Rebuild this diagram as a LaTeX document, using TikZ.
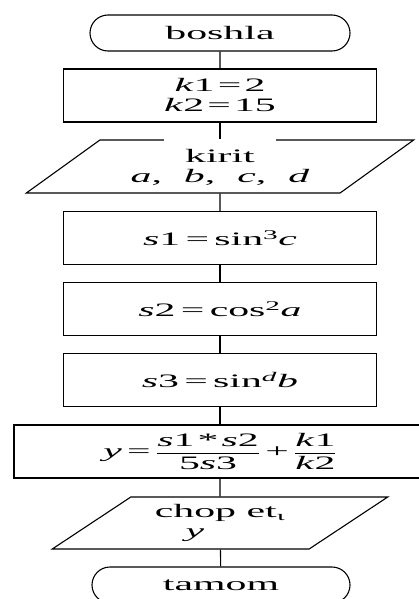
\documentclass[tikz,border=0pt]{standalone}
\usepackage{fontspec}
\setmainfont{Liberation Serif}[FakeStretch=2.2]
\usetikzlibrary{shapes.geometric,shapes.misc}

\begin{document}
\begin{tikzpicture}[x=1pt, y=-1pt, line width=1.1pt,
        font=\fontsize{19}{20}\selectfont,
        terminal/.style={draw, rounded rectangle, minimum width=260pt, minimum height=36pt, inner sep=0pt},
        process/.style={draw, rectangle, minimum width=313pt, minimum height=53pt, inner sep=0pt, align=center},
        io/.style={draw, trapezium, trapezium stretches=true, inner sep=0pt, align=center}]
    \useasboundingbox (0,0) rectangle (418,599);

    \node (start) at (220,33) [terminal] {boshla};
    \node (init) at (220,95.5) [process] {\textit{k}1\,=\,2\\ \textit{k}2\,=\,15};
    \node (input) at (220,166.5) [io, trapezium left angle=34, trapezium right angle=146, minimum width=388pt, minimum height=53pt]
        {\raisebox{0pt}[\ht\strutbox][\dp\strutbox]{\setlength\fboxsep{0pt}\colorbox{white}{\rule[-3pt]{0pt}{30pt}\hspace{21pt}kirit\hspace{21pt}}}\\
         \textit{a},\hspace{22pt}\textit{b},\hspace{22pt}\textit{c},\hspace{22pt}\textit{d}};
    \node (s1) at (220,238) [process] {\textit{s}1\;=\;sin\textsuperscript{3}\textit{c}};
    \node (s2) at (220,309) [process] {\textit{s}2\;=\;cos\textsuperscript{2}\textit{a}};
    \node (s3) at (220,380) [process] {\textit{s}3\;=\;sin\textsuperscript{\textit{d}}\textit{b}};
    \node (calc) at (220,451.5) [process, minimum width=412pt]
        {$\displaystyle\mbox{\textit{y}\;=\;}\frac{\mbox{\textit{s}1\,*\,\textit{s}2}}{\mbox{5\textit{s}3}}\mbox{\;+\;}\frac{\mbox{\textit{k}1}}{\mbox{\textit{k}2}}$};
    \node (output) at (220,523) [io, trapezium left angle=33, trapezium right angle=147, minimum width=336pt, minimum height=52pt]
        {chop et\textsubscript{ι}\\ \textit{y}\hspace*{50pt}};
    \node (stop) at (221,585) [terminal, minimum width=258pt] {tamom};

    \draw (start) -- (init);
    \draw (init) -- (input);
    \draw (input) -- (s1);
    \draw (s1) -- (s2);
    \draw (s2) -- (s3);
    \draw (s3) -- (calc);
    \draw (calc) -- (output);
    \draw (output) -- (stop);
\end{tikzpicture}
\end{document}
